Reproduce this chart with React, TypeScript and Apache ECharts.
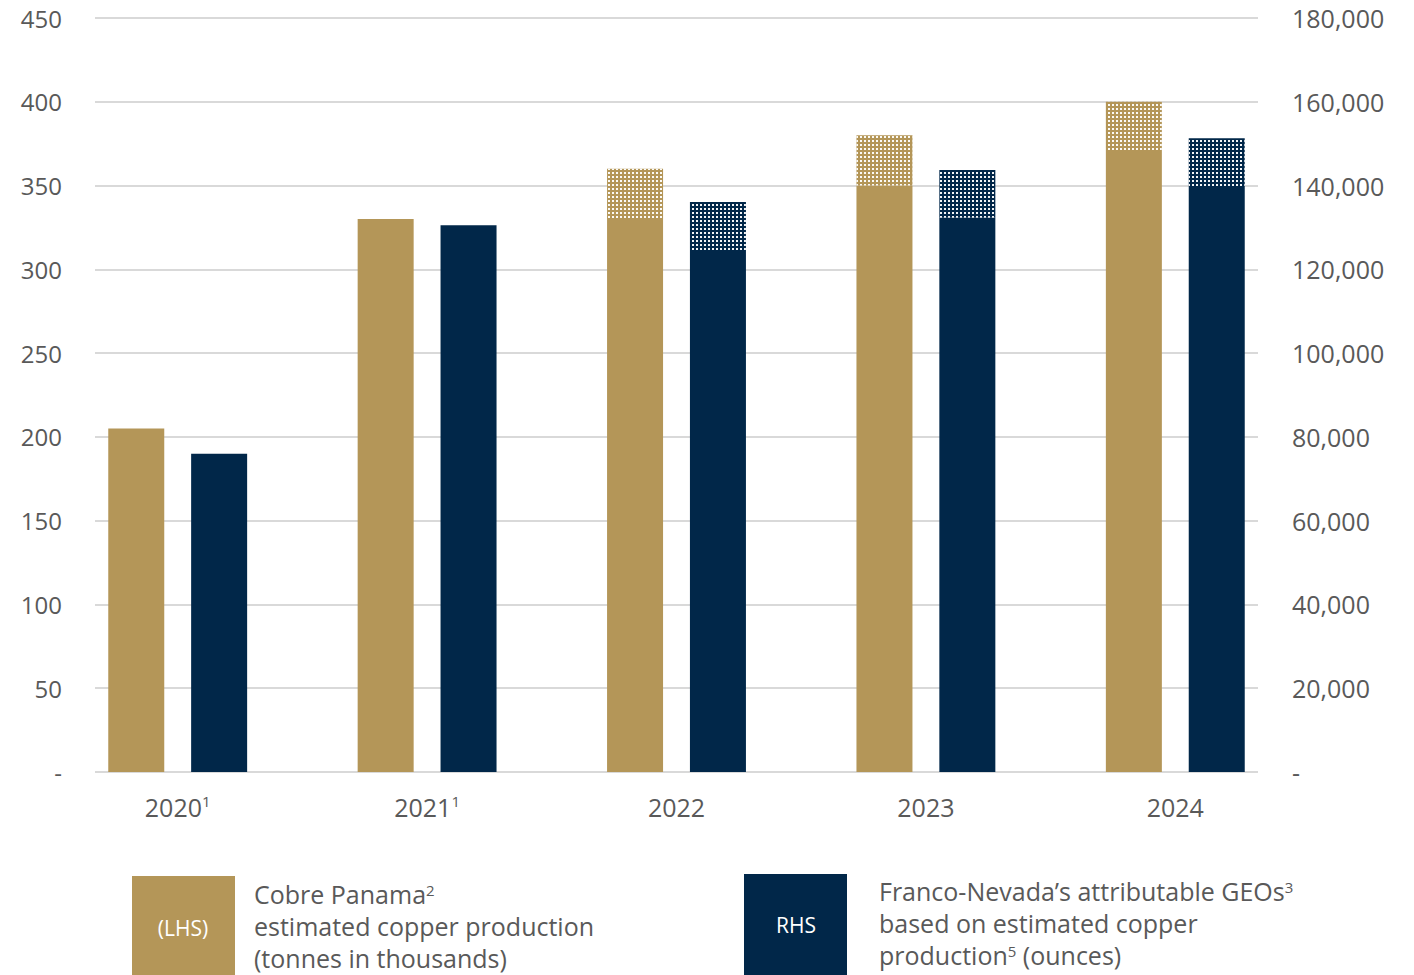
import React, { useEffect, useRef } from "react";
import * as echarts from "echarts";

const categories = ["2020{sup|1}", "2021{sup|1}", "2022", "2023", "2024"];
const copperBase = [205, 330, 330, 350, 370];
const copperUpside = [null, null, 30, 30, 30];
const geoBase = [76000, 130500, 124600, 132300, 139900];
const geoUpside = [null, null, 11500, 11400, 11400];
const lhsTicks = { min: 0, max: 450, interval: 50 };
const rhsTicks = { min: 0, max: 180000, interval: 20000 };
const legendLhsLines = ["Cobre Panama{sup|2}", "estimated copper production", "(tonnes in thousands)"];
const legendRhsLines = ["Franco-Nevada\u2019s attributable GEOs{sup|3}", "based on estimated copper", "production{sup|5} (ounces)"];

const GOLD = "#B49658";
const NAVY = "#012749";
const TEXT = "#595959";
const FONT = "'Open Sans', 'Noto Sans', sans-serif";

const decal = {
  symbol: "rect",
  symbolSize: 1,
  dashArrayX: [2, 2],
  dashArrayY: [2, 2],
  color: "rgba(255,255,255,0.95)",
};

export default function App() {
  const ref = useRef<HTMLDivElement>(null);
  useEffect(() => {
    if (!ref.current) return;
    const chart = echarts.init(ref.current, null, { renderer: "svg" });
    const fmtL = (v: number) => (v === 0 ? "-" : String(v));
    const fmtR = (v: number) => (v === 0 ? "-" : v.toLocaleString("en-US"));
    const supRich = { sup: { fontSize: 15, verticalAlign: "top", color: TEXT, fontFamily: FONT, lineHeight: 22 } };
    const legendSup = { sup: { fontSize: 15, verticalAlign: "top", fill: TEXT, fontFamily: FONT, lineHeight: 18 } };
    const legendLines = (lines: string[], x: number, y0: number) =>
      lines.map((t, i) => ({
        type: "text",
        x,
        y: y0 + i * 32,
        style: {
          text: t,
          fill: TEXT,
          fontSize: 25,
          fontFamily: FONT,
          lineHeight: 24,
          verticalAlign: "middle",
          rich: legendSup,
        },
      }));
    chart.setOption({
      animation: false,
      textStyle: { fontFamily: FONT },
      grid: [
        { left: 95, right: 156, top: 18, bottom: 203 },
        { left: 53, right: 114, top: 18, bottom: 203 },
      ],
      xAxis: [
        { type: "value", gridIndex: 0, show: false, min: 0, max: 1 },
        {
          type: "category",
          gridIndex: 1,
          data: categories,
          axisLine: { show: false },
          axisTick: { show: false },
          axisLabel: {
            fontSize: 25,
            color: TEXT,
            fontFamily: FONT,
            margin: 21,
            lineHeight: 28,
            rich: supRich,
          },
        },
      ],
      yAxis: [
        {
          type: "value",
          gridIndex: 0,
          position: "left",
          ...lhsTicks,
          axisLine: { show: false },
          axisTick: { show: false },
          splitLine: { lineStyle: { color: "#d9d9d9", width: 2 } },
          axisLabel: { formatter: fmtL, fontSize: 24, color: TEXT, fontFamily: FONT, margin: 33 },
        },
        {
          type: "value",
          gridIndex: 0,
          position: "right",
          ...rhsTicks,
          axisLine: { show: false },
          axisTick: { show: false },
          splitLine: { show: false },
          axisLabel: { formatter: fmtR, fontSize: 25, color: TEXT, fontFamily: FONT, margin: 34 },
        },
        { type: "value", gridIndex: 1, ...lhsTicks, show: false },
        { type: "value", gridIndex: 1, ...rhsTicks, show: false },
      ],
      series: [
        {
          type: "bar",
          name: "Cobre Panama",
          xAxisIndex: 1,
          yAxisIndex: 2,
          stack: "copper",
          data: copperBase,
          barWidth: 56,
          barGap: "48%",
          itemStyle: { color: GOLD },
        },
        {
          type: "bar",
          name: "Cobre Panama upside",
          xAxisIndex: 1,
          yAxisIndex: 2,
          stack: "copper",
          data: copperUpside,
          barWidth: 56,
          barGap: "48%",
          itemStyle: { color: GOLD, decal },
        },
        {
          type: "bar",
          name: "GEOs",
          xAxisIndex: 1,
          yAxisIndex: 3,
          stack: "geo",
          data: geoBase,
          barWidth: 56,
          barGap: "48%",
          itemStyle: { color: NAVY },
        },
        {
          type: "bar",
          name: "GEOs upside",
          xAxisIndex: 1,
          yAxisIndex: 3,
          stack: "geo",
          data: geoUpside,
          barWidth: 56,
          barGap: "48%",
          itemStyle: { color: NAVY, decal },
        },
      ],
      graphic: [
        { type: "rect", left: 132, top: 876, shape: { width: 103, height: 99 }, style: { fill: GOLD } },
        {
          type: "text",
          x: 183,
          y: 928,
          style: { text: "(LHS)", fill: "#fff", font: `21px ${FONT}`, align: "center", verticalAlign: "middle" },
        },
        ...legendLines(legendLhsLines, 254, 894),
        { type: "rect", left: 744, top: 874, shape: { width: 103, height: 101 }, style: { fill: NAVY } },
        {
          type: "text",
          x: 796,
          y: 925,
          style: { text: "RHS", fill: "#fff", font: `21px ${FONT}`, align: "center", verticalAlign: "middle" },
        },
        ...legendLines(legendRhsLines, 879, 891),
      ],
    });
    return () => chart.dispose();
  }, []);
  return (
    <div
      ref={ref}
      style={{ position: "fixed", left: 0, top: 0, width: 1414, height: 975, background: "#fff" }}
    />
  );
}
